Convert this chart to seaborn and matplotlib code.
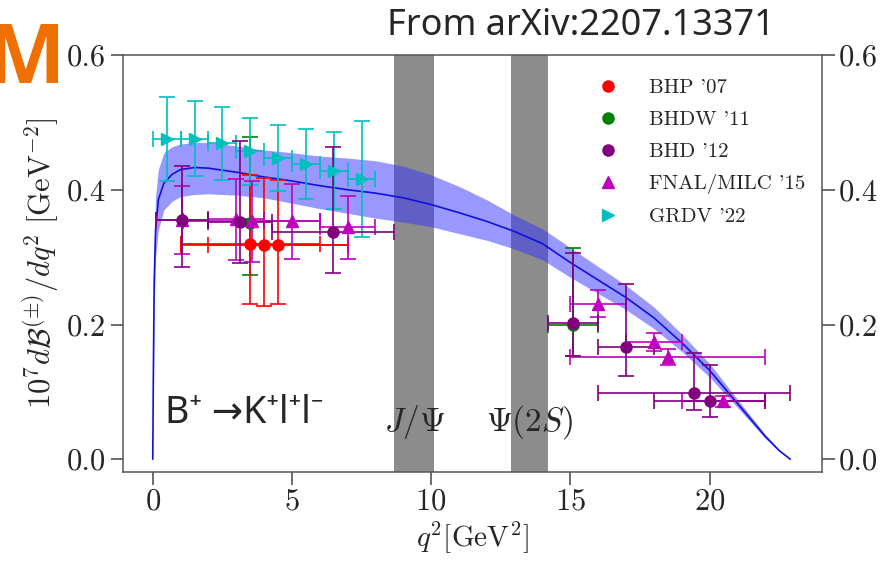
import numpy as np
import pandas as pd
import matplotlib
matplotlib.use("Agg")
import matplotlib.pyplot as plt
import seaborn as sns
from matplotlib.lines import Line2D

# theory curve (SM prediction)
q2_th = [0.0, 0.02, 0.05, 0.1, 0.2, 0.4, 0.7, 1.0, 1.5, 2.0, 3.0, 4.0, 5.0, 6.0, 7.0,
         8.0, 9.0, 10.0, 11.0, 12.0, 13.0, 14.0, 15.0, 16.0, 17.0, 18.0, 19.0, 20.0,
         21.0, 22.0, 22.5, 22.9]
br_th = [0.0, 0.12, 0.26, 0.34, 0.385, 0.41, 0.423, 0.43, 0.433, 0.432, 0.426, 0.419,
         0.413, 0.406, 0.400, 0.395, 0.388, 0.378, 0.366, 0.353, 0.338, 0.320, 0.292,
         0.266, 0.240, 0.210, 0.173, 0.132, 0.083, 0.034, 0.013, 0.0]
br_lo = [0.0, 0.10, 0.22, 0.30, 0.34, 0.37, 0.383, 0.39, 0.393, 0.394, 0.392, 0.388,
         0.380, 0.372, 0.365, 0.358, 0.352, 0.345, 0.335, 0.325, 0.312, 0.296, 0.270,
         0.246, 0.222, 0.194, 0.160, 0.122, 0.077, 0.031, 0.012, 0.0]
br_hi = [0.0, 0.14, 0.30, 0.39, 0.43, 0.455, 0.464, 0.468, 0.470, 0.470, 0.465, 0.459,
         0.455, 0.450, 0.447, 0.443, 0.435, 0.422, 0.405, 0.385, 0.362, 0.342, 0.314,
         0.286, 0.258, 0.226, 0.186, 0.142, 0.089, 0.037, 0.014, 0.0]

# charmonium vetoes
jpsi = (8.68, 10.11)
psi2s = (12.86, 14.18)

# BHP '07
bhp_q2 = [3.5, 4.0, 4.5]
bhp_y = [0.320, 0.318, 0.318]
bhp_xerr = [2.5, 3.0, 2.5]
bhp_ylo = [0.090, 0.090, 0.088]
bhp_yhi = [0.102, 0.100, 0.096]

# BHDW '11
bhdw_q2 = [3.5, 15.1]
bhdw_y = [0.350, 0.200]
bhdw_xerr = [0.0, 0.9]
bhdw_ylo = [0.076, 0.047]
bhdw_yhi = [0.128, 0.114]

# BHD '12
bhd_q2 = [1.05, 3.15, 6.49, 15.09, 17.0, 19.45, 20.0]
bhd_y = [0.355, 0.352, 0.338, 0.2015, 0.166, 0.099, 0.086]
bhd_xerr = [0.95, 1.15, 2.19, 0.91, 1.0, 3.45, 2.0]
bhd_ylo = [0.070, 0.060, 0.061, 0.048, 0.043, 0.026, 0.024]
bhd_yhi = [0.080, 0.120, 0.125, 0.105, 0.094, 0.059, 0.054]

# FNAL/MILC '15
fnal_q2 = [1.05, 3.0, 3.55, 5.0, 7.0, 16.0, 18.0, 18.5, 20.5]
fnal_y = [0.355, 0.356, 0.353, 0.353, 0.344, 0.231, 0.174, 0.152, 0.086]
fnal_xerr = [0.95, 1.0, 2.45, 1.0, 1.0, 1.0, 1.0, 3.5, 1.5]
fnal_yerr = [0.050, 0.060, 0.060, 0.056, 0.047, 0.020, 0.014, 0.012, 0.008]

# GRDV '22
grdv_q2 = [0.5, 1.5, 2.5, 3.5, 4.5, 5.5, 6.5, 7.5]
grdv_y = [0.475, 0.476, 0.469, 0.457, 0.447, 0.438, 0.428, 0.416]
grdv_xerr = [0.5] * 8
grdv_yerr = [0.062, 0.056, 0.054, 0.050, 0.049, 0.052, 0.057, 0.086]

sns.set_style("ticks")
plt.rcParams['font.family'] = ['cmr10', 'DejaVu Serif']
plt.rcParams['mathtext.fontset'] = 'cm'
plt.rcParams['axes.unicode_minus'] = False
plt.rcParams['axes.formatter.use_mathtext'] = True

fig = plt.figure(figsize=(8.93, 5.68), dpi=100)
ax = fig.add_axes([0.1374, 0.1695, 0.7831, 0.7337])

ax.axvspan(*jpsi, color='#8c8c8c', lw=0, zorder=0)
ax.axvspan(*psi2s, color='#8c8c8c', lw=0, zorder=0)

th = pd.DataFrame({'q2': q2_th, 'br': br_th})
ax.fill_between(q2_th, br_lo, br_hi, color='#3333ff', alpha=0.5, lw=0, zorder=1)
sns.lineplot(data=th, x='q2', y='br', ax=ax, color='#1010e0', lw=1.2, zorder=2)

ekw = dict(ls='none', capsize=6, elinewidth=1.2, capthick=1.2, markersize=8, zorder=3)
ax.errorbar(bhdw_q2, bhdw_y, xerr=bhdw_xerr, yerr=[bhdw_ylo, bhdw_yhi], fmt='o', color='green', **ekw)
ax.errorbar(bhp_q2, bhp_y, xerr=bhp_xerr, yerr=[bhp_ylo, bhp_yhi], fmt='o', color='red', **ekw)
ax.errorbar(grdv_q2, grdv_y, xerr=grdv_xerr, yerr=grdv_yerr, fmt='>', color='c', **ekw)
ax.errorbar(fnal_q2, fnal_y, xerr=fnal_xerr, yerr=fnal_yerr, fmt='^', color='m', **ekw)
ax.errorbar(bhd_q2, bhd_y, xerr=bhd_xerr, yerr=[bhd_ylo, bhd_yhi], fmt='o', color='purple', **ekw)

ax.set_xlim(-1.08, 24.04)
ax.set_ylim(-0.0185, 0.6)
ax.set_xticks([0, 5, 10, 15, 20])
ax.set_yticks([0.0, 0.2, 0.4, 0.6])
ax.set_yticklabels(['0.0', '0.2', '0.4', '0.6'])
ax.tick_params(axis='both', direction='out', length=9, width=1.1, color='#444444',
               labelsize=22, pad=3)
ax.tick_params(axis='y', right=True, labelright=True)
for s in ax.spines.values():
    s.set_color('#555555')
    s.set_linewidth(1.1)

ax.set_xlabel(r'$q^2[\mathrm{GeV}^2]$', fontsize=21, labelpad=2)
ax.set_ylabel(r'$10^7 d\mathcal{B}^{(\pm)}/dq^2\ [\mathrm{GeV}^{-2}]$', fontsize=22, labelpad=4)

ax.text(9.4, 0.055, r'$J/\Psi$', fontsize=24, ha='center', va='center')
ax.text(13.55, 0.055, r'$\Psi(2S)$', fontsize=24, ha='center', va='center')

handles = [
    Line2D([], [], ls='none', marker='o', color='red', markersize=8),
    Line2D([], [], ls='none', marker='o', color='green', markersize=8),
    Line2D([], [], ls='none', marker='o', color='purple', markersize=8),
    Line2D([], [], ls='none', marker='^', color='m', markersize=8),
    Line2D([], [], ls='none', marker='>', color='c', markersize=8),
]
labels = ["BHP '07", "BHDW '11", "BHD '12", "FNAL/MILC '15", "GRDV '22"]
ax.legend(handles, labels, loc='upper left', bbox_to_anchor=(0.652, 0.988), frameon=False,
          fontsize=15, handlelength=1.0, handletextpad=1.5, labelspacing=0.64)

fig.text(0.185, 0.255, 'B⁺ →K⁺l⁺l⁻', fontsize=27, family=['Noto Sans', 'DejaVu Sans'],
         ha='left', va='baseline')
fig.text(0.868, 0.955, 'From arXiv:2207.13371', fontsize=26, family=['Noto Sans', 'DejaVu Sans'],
         ha='right', va='center')
fig.text(0.073, 0.854, 'SM', fontsize=60, fontweight='bold', color='#ef7000',
         family=['Open Sans', 'Roboto', 'DejaVu Sans'], ha='right', va='baseline')

fig.savefig('out.png', dpi=100)
